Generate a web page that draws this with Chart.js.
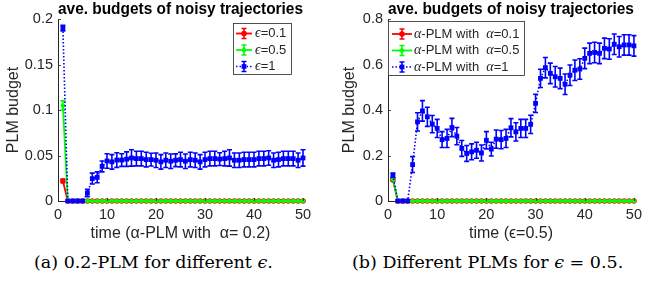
<!DOCTYPE html>
<html>
<head>
<meta charset="utf-8">
<script src="https://cdn.jsdelivr.net/npm/chart.js@4.4.1/dist/chart.umd.min.js"></script>
<style>
  body { margin: 0; background: #fff; width: 647px; height: 291px; position: relative; overflow: hidden; }
  canvas { position: absolute; top: 0; }
  #chartA { left: 0; }
  #chartB { left: 327px; }
  .cap { position: absolute; top: 252px; font-family: "DejaVu Serif", serif; font-size: 17.5px; color: #000; white-space: nowrap; }
</style>
</head>
<body>
<canvas id="chartA" width="320" height="245"></canvas>
<canvas id="chartB" width="320" height="245"></canvas>
<div class="cap" style="left:34px">(a) 0.2-PLM for different <i>ϵ</i>.</div>
<div class="cap" style="left:352px">(b) Different PLMs for <i>ϵ</i> = 0.5.</div>
<script>
const time = [1, 2, 3, 4, 5, 6, 7, 8, 9, 10, 11, 12, 13, 14, 15, 16, 17, 18, 19, 20,
  21, 22, 23, 24, 25, 26, 27, 28, 29, 30, 31, 32, 33, 34, 35, 36, 37, 38, 39, 40,
  41, 42, 43, 44, 45, 46, 47, 48, 49, 50];
const xTicks = [0, 10, 20, 30, 40, 50];

// (a) alpha = 0.2, different epsilon
const labelsA = ["ϵ=0.1", "ϵ=0.5", "ϵ=1"];
const yTicksA = [0, 0.05, 0.1, 0.15, 0.2];
const redA = [0.022, 0, 0, 0, 0, 0, 0, 0, 0, 0, 0, 0, 0, 0, 0, 0, 0, 0, 0, 0, 0, 0, 0, 0, 0,
  0, 0, 0, 0, 0, 0, 0, 0, 0, 0, 0, 0, 0, 0, 0, 0, 0, 0, 0, 0, 0, 0, 0, 0, 0];
const redErrA = [0.002, 0, 0, 0, 0, 0, 0, 0, 0, 0, 0, 0, 0, 0, 0, 0, 0, 0, 0, 0, 0, 0, 0, 0, 0,
  0, 0, 0, 0, 0, 0, 0, 0, 0, 0, 0, 0, 0, 0, 0, 0, 0, 0, 0, 0, 0, 0, 0, 0, 0];
const greenA = [0.105, 0, 0, 0, 0, 0, 0, 0, 0, 0, 0, 0, 0, 0, 0, 0, 0, 0, 0, 0, 0, 0, 0, 0, 0,
  0, 0, 0, 0, 0, 0, 0, 0, 0, 0, 0, 0, 0, 0, 0, 0, 0, 0, 0, 0, 0, 0, 0, 0, 0];
const greenErrA = [0.005, 0, 0, 0, 0, 0, 0, 0, 0, 0, 0, 0, 0, 0, 0, 0, 0, 0, 0, 0, 0, 0, 0, 0, 0,
  0, 0, 0, 0, 0, 0, 0, 0, 0, 0, 0, 0, 0, 0, 0, 0, 0, 0, 0, 0, 0, 0, 0, 0, 0];
const blueA = [0.19, 0, 0, 0, 0, 0.0088, 0.0246, 0.026, 0.038, 0.044,
  0.043, 0.045, 0.045, 0.046, 0.0473, 0.0466, 0.0466, 0.0455, 0.0455, 0.0448,
  0.043, 0.0448, 0.0437, 0.0448, 0.0455, 0.0437, 0.0455, 0.0448, 0.043, 0.0455,
  0.0466, 0.0466, 0.046, 0.0466, 0.0473, 0.0448, 0.0448, 0.0455, 0.0455, 0.0455,
  0.0466, 0.0466, 0.0473, 0.0448, 0.0455, 0.0466, 0.0466, 0.0466, 0.0448, 0.0473];
const blueErrA = [0.003, 0, 0, 0, 0, 0.004, 0.006, 0.006, 0.006, 0.008,
  0.008, 0.008, 0.007, 0.008, 0.009, 0.008, 0.008, 0.008, 0.007, 0.008,
  0.008, 0.008, 0.008, 0.007, 0.008, 0.008, 0.008, 0.008, 0.008, 0.008,
  0.008, 0.008, 0.007, 0.008, 0.009, 0.008, 0.008, 0.008, 0.008, 0.008,
  0.008, 0.008, 0.008, 0.008, 0.008, 0.008, 0.008, 0.008, 0.008, 0.009];

// (b) epsilon = 0.5, different alpha
const labelsB = ["α-PLM with  α=0.1", "α-PLM with  α=0.5", "α-PLM with  α=1"];
const yTicksB = [0, 0.2, 0.4, 0.6, 0.8];
const redB = [0.093, 0, 0, 0, 0, 0, 0, 0, 0, 0, 0, 0, 0, 0, 0, 0, 0, 0, 0, 0, 0, 0, 0, 0, 0,
  0, 0, 0, 0, 0, 0, 0, 0, 0, 0, 0, 0, 0, 0, 0, 0, 0, 0, 0, 0, 0, 0, 0, 0, 0];
const redErrB = [0.006, 0, 0, 0, 0, 0, 0, 0, 0, 0, 0, 0, 0, 0, 0, 0, 0, 0, 0, 0, 0, 0, 0, 0, 0,
  0, 0, 0, 0, 0, 0, 0, 0, 0, 0, 0, 0, 0, 0, 0, 0, 0, 0, 0, 0, 0, 0, 0, 0, 0];
const greenB = [0.098, 0, 0, 0, 0, 0, 0, 0, 0, 0, 0, 0, 0, 0, 0, 0, 0, 0, 0, 0, 0, 0, 0, 0, 0,
  0, 0, 0, 0, 0, 0, 0, 0, 0, 0, 0, 0, 0, 0, 0, 0, 0, 0, 0, 0, 0, 0, 0, 0, 0];
const greenErrB = [0.005, 0, 0, 0, 0, 0, 0, 0, 0, 0, 0, 0, 0, 0, 0, 0, 0, 0, 0, 0, 0, 0, 0, 0, 0,
  0, 0, 0, 0, 0, 0, 0, 0, 0, 0, 0, 0, 0, 0, 0, 0, 0, 0, 0, 0, 0, 0, 0, 0, 0];
const blueB = [0.113, 0, 0, 0, 0.160, 0.348, 0.396, 0.370, 0.338, 0.319,
  0.270, 0.275, 0.323, 0.285, 0.231, 0.209, 0.216, 0.223, 0.211, 0.267,
  0.228, 0.272, 0.270, 0.275, 0.322, 0.304, 0.319, 0.319, 0.337, 0.429,
  0.539, 0.586, 0.561, 0.546, 0.539, 0.513, 0.553, 0.575, 0.580, 0.627,
  0.649, 0.653, 0.649, 0.671, 0.668, 0.689, 0.678, 0.686, 0.686, 0.682];
const blueErrB = [0.01, 0, 0, 0, 0.035, 0.04, 0.045, 0.042, 0.038, 0.04,
  0.035, 0.04, 0.04, 0.038, 0.035, 0.035, 0.035, 0.035, 0.035, 0.038,
  0.03, 0.04, 0.04, 0.04, 0.04, 0.04, 0.04, 0.04, 0.04, 0.04,
  0.04, 0.045, 0.045, 0.045, 0.045, 0.045, 0.045, 0.045, 0.045, 0.045,
  0.045, 0.045, 0.045, 0.045, 0.045, 0.045, 0.045, 0.045, 0.045, 0.045];

const AXIS = "#262626";

function pts(ys) { return time.map((t, i) => ({ x: t, y: ys[i] })); }

// text with greek letters set in italic serif, the rest in sans
function drawRich(ctx, text, x, y, size) {
  ctx.textBaseline = "middle";
  ctx.textAlign = "left";
  for (const ch of text) {
    const greek = /[αϵ]/.test(ch);
    ctx.font = greek ? "italic " + (size + 1) + "px 'Liberation Serif'" : size + "px 'Liberation Sans'";
    ctx.fillText(ch, x, y);
    x += ctx.measureText(ch).width;
  }
}

function drawMarker(ctx, style, x, y, r, color) {
  ctx.fillStyle = color;
  ctx.beginPath();
  if (style === "rect") ctx.rect(x - r * 0.7, y - r * 0.7, r * 1.4, r * 1.4);
  else ctx.arc(x, y, r, 0, Math.PI * 2);
  ctx.fill();
}

const errorBars = {
  id: "errorBars",
  afterDatasetDraw(chart, args) {
    const ds = chart.data.datasets[args.index];
    if (!ds.errors) return;
    const ctx = chart.ctx, ys = chart.scales.y;
    ctx.save();
    ctx.strokeStyle = ds.borderColor;
    ctx.lineWidth = 1.6;
    args.meta.data.forEach((pt, i) => {
      const e = ds.errors[i];
      if (!e) return;
      const v = ds.data[i].y;
      const top = ys.getPixelForValue(v + e), bot = ys.getPixelForValue(v - e);
      ctx.beginPath();
      ctx.moveTo(pt.x, top); ctx.lineTo(pt.x, bot);
      ctx.moveTo(pt.x - 2.5, top); ctx.lineTo(pt.x + 2.5, top);
      ctx.moveTo(pt.x - 2.5, bot); ctx.lineTo(pt.x + 2.5, bot);
      ctx.stroke();
    });
    ctx.restore();
  }
};

const innerTicks = {
  id: "innerTicks",
  afterDraw(chart) {
    const ctx = chart.ctx, a = chart.chartArea, xs = chart.scales.x, ys = chart.scales.y;
    ctx.save();
    ctx.strokeStyle = AXIS;
    ctx.lineWidth = 0.8;
    ctx.beginPath();
    ys.ticks.forEach(t => { const p = Math.round(ys.getPixelForValue(t.value)) + 0.5; ctx.moveTo(a.left, p); ctx.lineTo(a.left + 3, p); });
    xs.ticks.forEach(t => { const p = Math.round(xs.getPixelForValue(t.value)) + 0.5; ctx.moveTo(p, a.bottom); ctx.lineTo(p, a.bottom - 3); });
    ctx.stroke();
    ctx.restore();
  }
};

const boxLegend = {
  id: "boxLegend",
  afterDraw(chart, args, o) {
    const ctx = chart.ctx;
    ctx.save();
    ctx.fillStyle = "#fff";
    ctx.fillRect(o.box[0], o.box[1], o.box[2], o.box[3]);
    ctx.strokeStyle = AXIS;
    ctx.lineWidth = 0.8;
    ctx.strokeRect(o.box[0] + 0.5, o.box[1] + 0.5, o.box[2], o.box[3]);
    chart.data.datasets.forEach((ds, i) => {
      const y = o.rows[i], x0 = o.lineX[0], x1 = o.lineX[1], xm = (x0 + x1) / 2;
      ctx.strokeStyle = ds.borderColor;
      ctx.lineWidth = ds.borderWidth;
      ctx.setLineDash(ds.borderDash || []);
      ctx.beginPath(); ctx.moveTo(x0, y); ctx.lineTo(x1, y); ctx.stroke();
      ctx.setLineDash([]);
      ctx.lineWidth = 1.6;
      ctx.beginPath();
      ctx.moveTo(xm, y - 5); ctx.lineTo(xm, y + 5);
      ctx.moveTo(xm - 2.5, y - 5); ctx.lineTo(xm + 2.5, y - 5);
      ctx.moveTo(xm - 2.5, y + 5); ctx.lineTo(xm + 2.5, y + 5);
      ctx.stroke();
      drawMarker(ctx, ds.pointStyle, xm, y, ds.pointRadius, ds.borderColor);
      ctx.fillStyle = AXIS;
      drawRich(ctx, ds.label, o.textX, y, 13);
    });
    ctx.restore();
  }
};

function makeChart(id, labels, series, errs, yTicks, yTitlePad, yWidth, padRight, xTitle, legendOpts) {
  const colors = ["#ff0000", "#00ff00", "#0000ff"];
  const styles = ["circle", "circle", "rect"];
  const radii = [2.8, 2.2, 3.4];
  const datasets = series.map((s, i) => ({
    label: labels[i],
    data: pts(s),
    errors: errs[i],
    borderColor: colors[i],
    backgroundColor: colors[i],
    borderWidth: i === 2 ? 1.6 : 1.8,
    borderDash: i === 2 ? [1.5, 2] : [],
    pointStyle: styles[i],
    pointRadius: radii[i],
    pointBorderWidth: 0,
    order: 3 - i,
    clip: false,
    tension: 0
  }));
  return new Chart(document.getElementById(id), {
    type: "line",
    data: { datasets },
    options: {
      responsive: false,
      animation: false,
      layout: { padding: { left: 0, right: padRight, top: 0, bottom: 0 } },
      plugins: {
        legend: { display: false },
        tooltip: { enabled: false },
        title: {
          display: true,
          fullSize: false,
          text: "ave. budgets of noisy trajectories",
          color: "#000",
          font: { family: "'Liberation Sans'", size: 16, weight: "bold", lineHeight: 1 },
          padding: { top: 2, bottom: 1 }
        },
        boxLegend: legendOpts
      },
      scales: {
        x: {
          type: "linear",
          min: 0, max: 50,
          afterBuildTicks: s => { s.ticks = xTicks.map(v => ({ value: v })); },
          afterFit: s => { s.height = 44; },
          grid: { display: false, drawTicks: false },
          border: { display: true, color: AXIS, width: 1 },
          ticks: { color: AXIS, font: { family: "'Liberation Sans'", size: 14.5 }, padding: 5, maxRotation: 0, autoSkip: false },
          title: { display: true, text: xTitle, color: AXIS, font: { family: "'Liberation Sans'", size: 16 }, padding: { top: 0, bottom: 1.4 } }
        },
        y: {
          type: "linear",
          min: yTicks[0], max: yTicks[yTicks.length - 1],
          afterBuildTicks: s => { s.ticks = yTicks.map(v => ({ value: v })); },
          afterFit: s => { s.width = yWidth; },
          grid: { display: false, drawTicks: false },
          border: { display: true, color: AXIS, width: 1 },
          ticks: { color: AXIS, font: { family: "'Liberation Sans'", size: 14.5 }, padding: 5, callback: v => String(v) },
          title: { display: true, text: "PLM budget", color: AXIS, font: { family: "'Liberation Sans'", size: 16 }, padding: { top: yTitlePad, bottom: 0 } }
        }
      }
    },
    plugins: [errorBars, innerTicks, boxLegend]
  });
}

makeChart("chartA", labelsA, [redA, greenA, blueA], [redErrA, greenErrA, blueErrA],
  yTicksA, 4.4, 58, 17, "time (α-PLM with  α= 0.2)",
  { box: [233, 23, 58, 51], rows: [33.5, 50, 66.5], lineX: [236, 252], textX: 255 });

makeChart("chartB", labelsB, [redB, greenB, blueB], [redErrB, greenErrB, blueErrB],
  yTicksB, 13.4, 61, 9, "time (ϵ=0.5)",
  { box: [61, 21, 136, 54], rows: [34, 50.5, 67], lineX: [65, 85], textX: 87 });
</script>
</body>
</html>
